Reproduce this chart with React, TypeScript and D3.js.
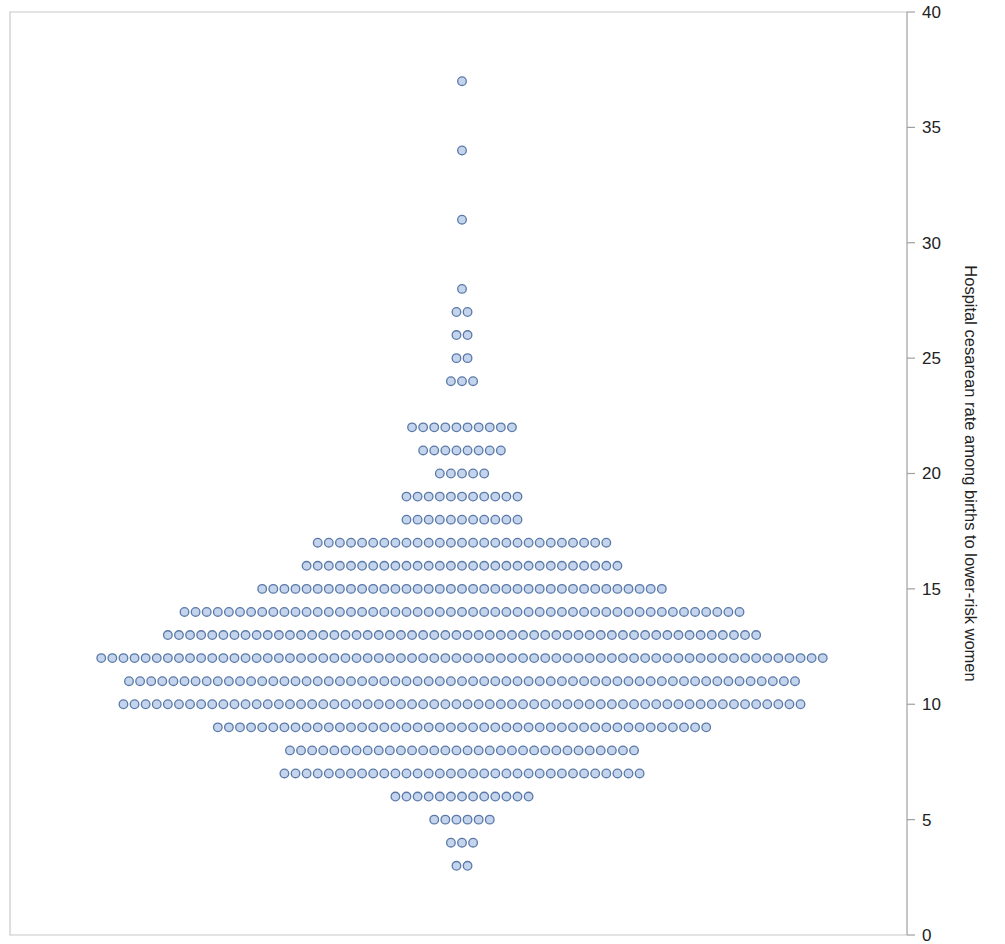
import React from 'react';
import * as d3 from 'd3';

// cesarean rate (%) and number of hospitals at each rate
const rateValues = [3, 4, 5, 6, 7, 8, 9, 10, 11, 12, 13, 14, 15, 16, 17, 18, 19, 20, 21, 22, 24, 25, 26, 27, 28, 31, 34, 37];
const hospitalCounts = [2, 3, 6, 13, 33, 32, 45, 62, 61, 66, 54, 51, 37, 29, 27, 11, 11, 5, 8, 10, 3, 2, 2, 2, 1, 1, 1, 1];
const yTicks = [0, 5, 10, 15, 20, 25, 30, 35, 40];
const axisTitle = 'Hospital cesarean rate among births to lower-risk women';

const W = 1005;
const H = 944;
const left = 10, right = 907, top = 12, bottom = 935;

export default function App() {
  const y = d3.scaleLinear().domain([0, 40]).range([bottom, top]);
  // horizontal position of a dot, in dot-steps from the middle column
  const x = d3.scaleLinear().domain([-40, 40]).range([462 - 40 * 11.1, 462 + 40 * 11.1]);

  const dots: { cx: number; cy: number }[] = [];
  rateValues.forEach((r, j) => {
    const n = hospitalCounts[j];
    for (let i = 0; i < n; i++) {
      dots.push({ cx: x(i - (n - 1) / 2), cy: y(r) });
    }
  });

  return (
    <div style={{ position: 'absolute', left: 0, top: 0 }}>
      <svg width={W} height={H} style={{ display: 'block', fontFamily: 'Liberation Sans, Arial, sans-serif' }}>
        <rect x={0} y={0} width={W} height={H} fill="#fff" />
        <path d={`M${right},${top}H${left}V${bottom}H${right}`} fill="none" stroke="#c8c8c8" strokeWidth={1.2} />
        <line x1={right} x2={right} y1={top} y2={bottom} stroke="#a0a0a0" strokeWidth={1.2} />
        {yTicks.map(t => (
          <g key={t} transform={`translate(${right},${y(t)})`}>
            <line x1={0} x2={8} stroke="#a0a0a0" strokeWidth={1.2} />
            <text x={15} dy="0.35em" fontSize={17} fill="#222">{t}</text>
          </g>
        ))}
        <text
          transform={`translate(965,${(top + bottom) / 2}) rotate(90)`}
          textAnchor="middle"
          fontSize={16.5}
          fill="#222"
        >{axisTitle}</text>
        {dots.map((d, i) => (
          <circle key={i} cx={d.cx} cy={d.cy} r={4.3} fill="#c3d4ec" stroke="#5a79a8" strokeWidth={1.3} />
        ))}
      </svg>
    </div>
  );
}
